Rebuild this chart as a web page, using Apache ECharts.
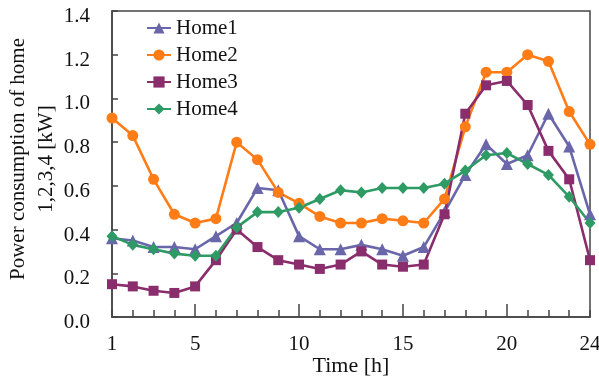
<!DOCTYPE html>
<html>
<head>
<meta charset="utf-8">
<script src="https://cdn.jsdelivr.net/npm/echarts@6/dist/echarts.min.js"></script>
<style>
html,body{margin:0;padding:0;background:#fff;}
#chart{width:599px;height:380px;}
</style>
</head>
<body>
<div id="chart"></div>
<script>
const hours = [1,2,3,4,5,6,7,8,9,10,11,12,13,14,15,16,17,18,19,20,21,22,23,24];
const home1 = [0.36,0.35,0.32,0.32,0.31,0.37,0.43,0.59,0.58,0.37,0.31,0.31,0.33,0.31,0.28,0.32,0.48,0.65,0.79,0.70,0.74,0.93,0.78,0.47];
const home2 = [0.91,0.83,0.63,0.47,0.43,0.45,0.80,0.72,0.57,0.52,0.46,0.43,0.43,0.45,0.44,0.43,0.54,0.87,1.12,1.12,1.20,1.17,0.94,0.79];
const home3 = [0.15,0.14,0.12,0.11,0.14,0.26,0.40,0.32,0.26,0.24,0.22,0.24,0.30,0.24,0.23,0.24,0.47,0.93,1.06,1.08,0.97,0.76,0.63,0.26];
const home4 = [0.37,0.33,0.31,0.29,0.28,0.28,0.41,0.48,0.48,0.50,0.54,0.58,0.57,0.59,0.59,0.59,0.61,0.67,0.74,0.75,0.70,0.65,0.55,0.43];
const seriesNames = ['Home1','Home2','Home3','Home4'];
const xLabelValues = [1,5,10,15,20,24];
const xMajorTicks = [5,10,15,20];
const yTitle1 = 'Power consumption of home';
const yTitle2 = '1,2,3,4 [kW]';
const xTitle = 'Time [h]';

const FONT = '"Liberation Serif","Times New Roman",serif';
const AX = '#444';
const colors = ['#6a66aa','#ff7c16','#8a2d6c','#2e9a64'];
const symbols = ['triangle','circle','rect','diamond'];
const symbolSizes = [12,11,10,[11,12]];
const values = [home1,home2,home3,home4];

const chart = echarts.init(document.getElementById('chart'), null, {renderer:'canvas'});
chart.setOption({
  animation:false,
  backgroundColor:'#fff',
  grid:{left:112,right:9,top:11,bottom:63,outerBoundsMode:'none',containLabel:false,
    show:true,borderColor:AX,borderWidth:1.5,backgroundColor:'transparent'},
  legend:{
    orient:'vertical',left:141,top:12,
    itemWidth:24,itemHeight:14,itemGap:5,
    textStyle:{fontFamily:FONT,fontSize:21,color:'#111',lineHeight:22},
    data:seriesNames
  },
  xAxis:[{
    type:'value',min:1,max:24,interval:1,
    axisLine:{show:true,lineStyle:{color:AX,width:1.5}},
    axisTick:{show:true,inside:true,length:13,customValues:xMajorTicks,lineStyle:{color:AX,width:1.5}},
    axisLabel:{customValues:xLabelValues,fontFamily:FONT,fontSize:21,color:'#111',margin:17},
    splitLine:{show:false},
    name:xTitle,nameLocation:'middle',nameGap:38,nameMoveOverlap:false,
    nameTextStyle:{fontFamily:FONT,fontSize:22,color:'#111'}
  },{
    type:'value',min:1,max:24,interval:1,position:'bottom',
    axisLine:{show:false},
    axisTick:{show:true,inside:true,length:7,lineStyle:{color:AX,width:1.5}},
    axisLabel:{show:false},
    splitLine:{show:false}
  }],
  yAxis:{
    type:'value',min:0,max:1.4,interval:0.2,
    axisLine:{show:true,lineStyle:{color:AX,width:1.5}},
    axisTick:{show:true,inside:true,length:6,lineStyle:{color:AX,width:1.5}},
    axisLabel:{fontFamily:FONT,fontSize:21,color:'#111',margin:22,verticalAlign:'top',lineHeight:11,
      formatter:v=>v.toFixed(1)},
    splitLine:{show:false}
  },
  graphic:[{
    type:'text',x:18,y:159,rotation:Math.PI/2,
    style:{text:yTitle1,font:'21px '+FONT,fill:'#111',align:'center',verticalAlign:'middle'}
  },{
    type:'text',x:46,y:159,rotation:Math.PI/2,
    style:{text:yTitle2,font:'21px '+FONT,fill:'#111',align:'center',verticalAlign:'middle'}
  }],
  series:seriesNames.map((n,i)=>({
    name:n,type:'line',xAxisIndex:0,
    data:hours.map((h,j)=>[h,values[i][j]]),
    symbol:symbols[i],symbolSize:symbolSizes[i],
    showAllSymbol:true,
    lineStyle:{color:colors[i],width:2.6},
    itemStyle:{color:colors[i]},
    emphasis:{disabled:true}
  }))
});
</script>
</body>
</html>
